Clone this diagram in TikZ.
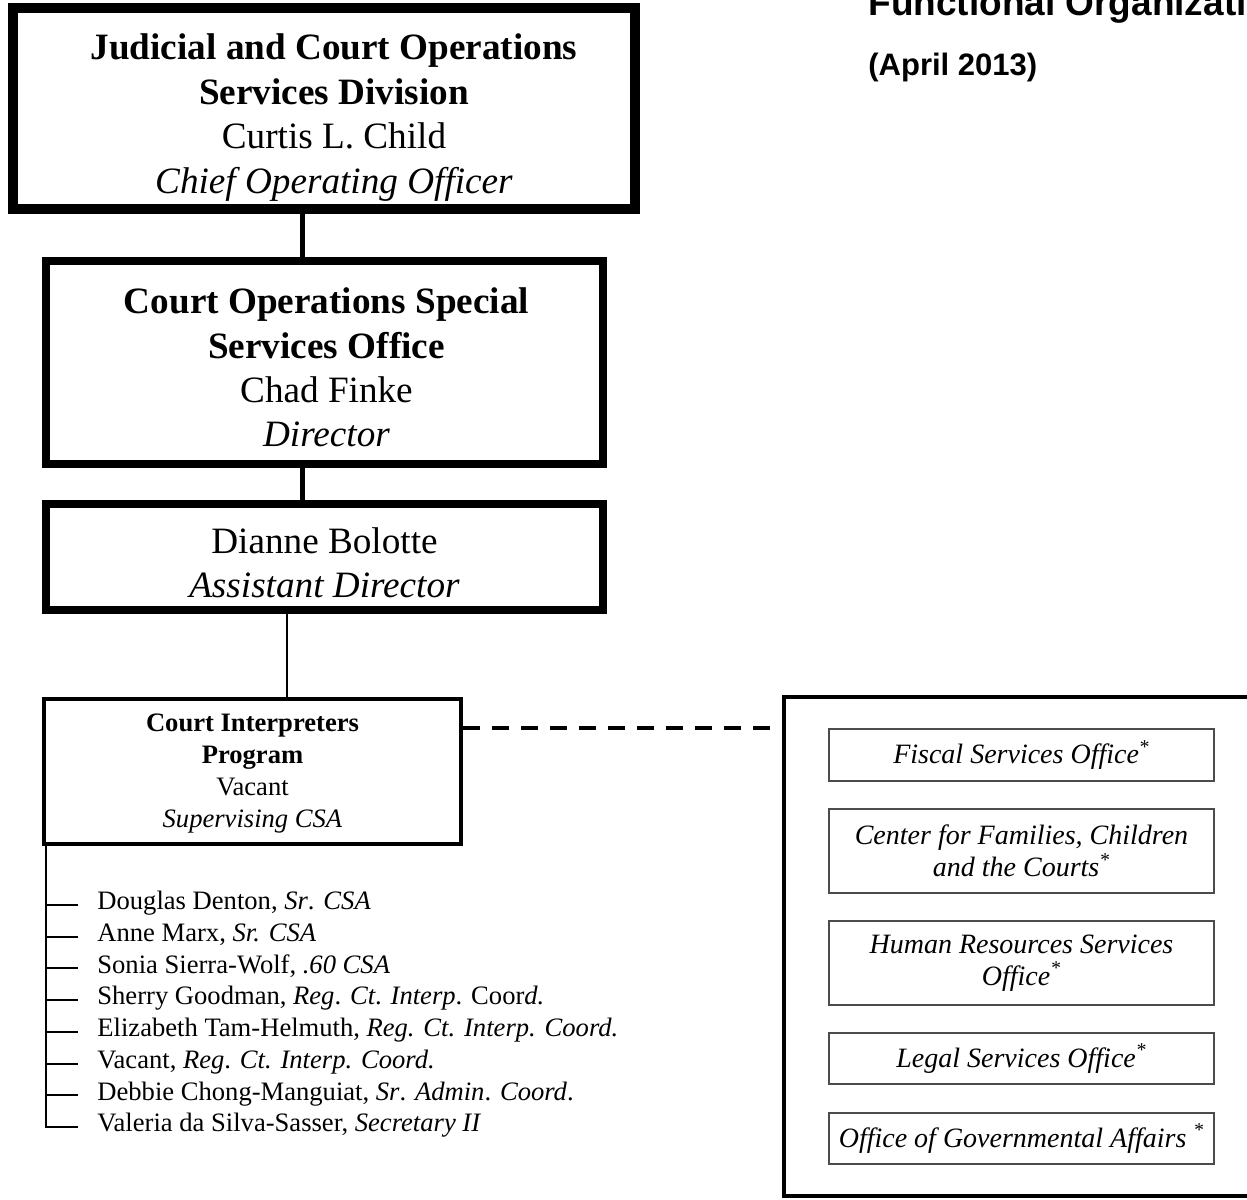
\documentclass[tikz,border=0pt]{standalone}
\usepackage{fontspec}
\setmainfont{Liberation Serif}
\newfontfamily\titlefont{Liberation Sans}
\usetikzlibrary{positioning}

\newcommand{\bigtxt}{\fontsize{18.6pt}{22.2pt}\selectfont}
\newcommand{\progtxt}{\fontsize{13.3pt}{16pt}\selectfont}
\newcommand{\unittxt}{\fontsize{14pt}{16pt}\selectfont}

\tikzset{
  headbox/.style={draw, line width=5pt, inner sep=0pt},
  officebox/.style={draw, line width=4pt, inner sep=0pt},
  progbox/.style={draw, line width=2pt, inner sep=0pt},
  boxtext/.style={align=center, font=\bigtxt, inner sep=0pt},
  progtext/.style={align=center, font=\progtxt, inner sep=0pt},
  extbox/.style={draw, line width=2pt, inner sep=0pt},
  unitbox/.style={draw=black!70, line width=0.6pt, align=center, font=\unittxt\itshape, inner sep=0pt, minimum width=192.5pt},
  staff/.style={anchor=west, inner sep=0pt, font=\progtxt, text height=0.7em, text depth=0.22em},
  heavylink/.style={line width=2.5pt},
  thinlink/.style={line width=1pt},
  dashlink/.style={line width=2pt, dash pattern=on 8.5pt off 6pt},
  titletxt/.style={anchor=base west, inner sep=0pt, font=\titlefont\bfseries}
}

\begin{document}
\begin{tikzpicture}[x=0.5pt, y=-0.5pt]
  \useasboundingbox (0,0) rectangle (1247,1199);

  % Chain of command
  \node[headbox, minimum width=311pt, minimum height=100.5pt] (jcos) at (324,108.5) {};
  \node[boxtext] (jcostext) at ([xshift=5pt, yshift=-4.5pt]jcos.center)
    {\textbf{Judicial and Court Operations}\\ \textbf{Services Division}\\ Curtis L. Child\\ \textit{Chief Operating Officer}};
  \node[officebox, minimum width=278.5pt, minimum height=101.5pt] (coss) at (324.5,362.5) {};
  \node[boxtext] (cosstext) at ([xshift=1pt, yshift=-2.5pt]coss.center)
    {\textbf{Court Operations Special}\\ \textbf{Services Office}\\ Chad Finke\\ \textit{Director}};
  \node[officebox, minimum width=278.5pt, minimum height=53pt] (asst) at (324.5,557) {};
  \node[boxtext] (assttext) at ([yshift=-3pt]asst.center)
    {Dianne Bolotte\\ \textit{Assistant Director}};
  \node[progbox, minimum width=208.5pt, minimum height=72.5pt] (cip) at (252.5,771.5) {};
  \node[progtext] (ciptext) at ([yshift=-1.2pt]cip.center)
    {\textbf{Court Interpreters}\\ \textbf{Program}\\ Vacant\\ \textit{Supervising CSA}};

  \draw[heavylink] (jcos.south -| 302,0) -- (coss.north -| 302,0);
  \draw[heavylink] (coss.south -| 302,0) -- (asst.north -| 302,0);
  \draw[thinlink] (asst.south -| 287,0) -- (cip.north -| 287,0);

  % Program staff
  \node[staff] (st1) at (97,905) {Douglas Denton, \textit{Sr}. \textit{CSA}};
  \node[staff] (st2) at (97,936.7) {Anne Marx, \textit{Sr. CSA}};
  \node[staff] (st3) at (97,968.4) {Sonia Sierra-Wolf, \textit{.60 CSA}};
  \node[staff] (st4) at (97,1000.1) {Sherry Goodman, \textit{Reg}. \textit{Ct}. \textit{Interp}. Coor\textit{d.}};
  \node[staff] (st5) at (97,1031.8) {Elizabeth Tam-Helmuth, \textit{Reg. Ct. Interp. Coord.}};
  \node[staff] (st6) at (97,1063.5) {Vacant, \textit{Reg}. \textit{Ct. Interp. Coord.}};
  \node[staff] (st7) at (97,1095.2) {Debbie Chong-Manguiat, \textit{Sr}. \textit{Admin}. \textit{Coord}.};
  \node[staff] (st8) at (97,1126.9) {Valeria da Silva-Sasser, \textit{Secretary II}};

  \draw[thinlink] (cip.south -| 46,0) -- (st8.west -| 46,0) -- (st8.west -| 78,0);
  \draw[thinlink] (st1.west -| 46,0) -- (st1.west -| 78,0);
  \draw[thinlink] (st2.west -| 46,0) -- (st2.west -| 78,0);
  \draw[thinlink] (st3.west -| 46,0) -- (st3.west -| 78,0);
  \draw[thinlink] (st4.west -| 46,0) -- (st4.west -| 78,0);
  \draw[thinlink] (st5.west -| 46,0) -- (st5.west -| 78,0);
  \draw[thinlink] (st6.west -| 46,0) -- (st6.west -| 78,0);
  \draw[thinlink] (st7.west -| 46,0) -- (st7.west -| 78,0);

  % Supporting offices
  \node[extbox, minimum width=239pt, minimum height=249.5pt] (ext) at (1023,946.5) {};
  \node[unitbox, minimum height=26pt] (fiscal) at (1021.5,755) {Fiscal Services Office\textsuperscript{*}};
  \node[unitbox, minimum height=42pt] (cfcc) at (1021.5,851) {Center for Families, Children\\ and the Courts\textsuperscript{*}};
  \node[unitbox, minimum height=42pt] (hr) at (1021.5,963) {Human Resources Services\\ Office\textsuperscript{*}};
  \node[unitbox, minimum height=25.5pt] (legal) at (1021.5,1058.5) {Legal Services Office\textsuperscript{*}};
  \node[unitbox, minimum height=25.5pt] (oga) at (1021.5,1138.5) {Office of Governmental Affairs \textsuperscript{*}};

  \draw[dashlink] (cip.east |- 0,728) -- (ext.west |- 0,728);

  % Title
  \node[titletxt, font=\titlefont\bfseries\fontsize{18.5pt}{22pt}\selectfont] (title) at (868,15) {Functional Organizati};
  \node[titletxt, font=\titlefont\bfseries\fontsize{15.5pt}{18pt}\selectfont] (date) at (868,75) {(April 2013)};
\end{tikzpicture}
\end{document}
